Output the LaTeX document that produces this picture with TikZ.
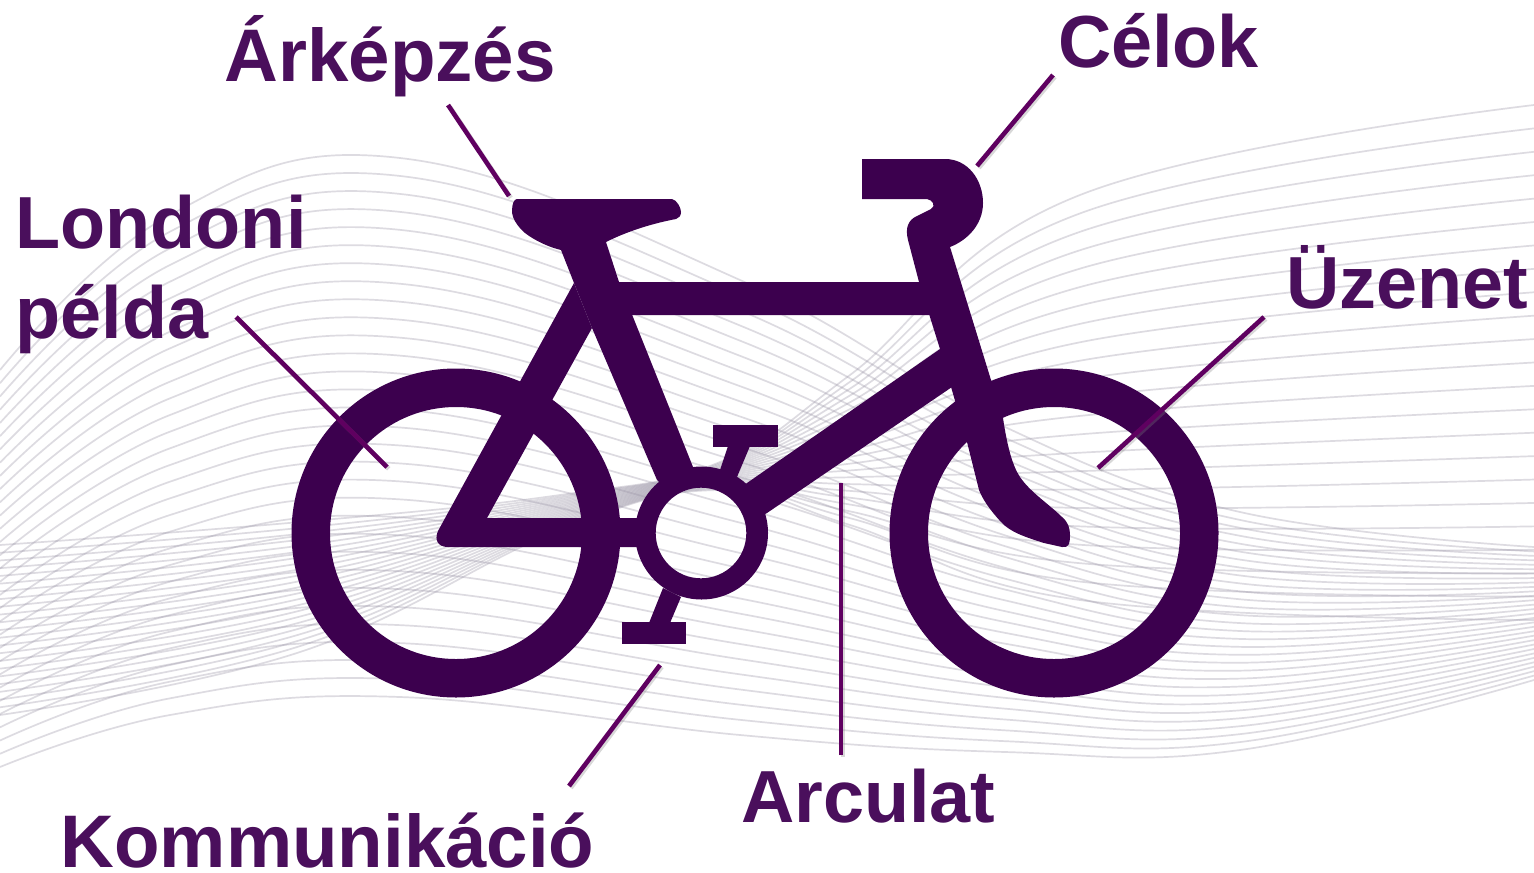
\documentclass[tikz,border=0pt]{standalone}
\usepackage{fontspec}
\setmainfont{Liberation Sans}
\definecolor{bikecol}{HTML}{3C004E}
\definecolor{textcol}{HTML}{4A0F5C}
\definecolor{linecol}{HTML}{5F0060}
\definecolor{wavecol}{HTML}{9A94A6}
\tikzset{
  bikepart/.style={fill=bikecol,draw=none},
  ringpart/.style={fill=bikecol,draw=none,even odd rule},
  wave/.style={draw=wavecol,line width=.85pt,opacity=.33},
  lab/.style={text=textcol,anchor=base west,inner sep=0pt,outer sep=0pt,font=\fontsize{36.9}{44}\selectfont\bfseries},
  labwide/.style={lab,font=\fontsize{37.25}{44}\selectfont\bfseries},
  leader/.style={draw=linecol,line width=2.3pt,
    preaction={draw=gray,opacity=.3,line width=2.3pt,transform canvas={xshift=.9pt,yshift=-.9pt}}}
}
\begin{document}
\begin{tikzpicture}[x=.5pt,y=-.5pt]
\useasboundingbox (0,0) rectangle (1534,872);
\fill[white] (0,0) rectangle (1534,872);
% background waves
\begin{scope}
\clip (0,0) rectangle (1534,872);
\foreach \t in {0,...,30}{
  \pgfmathsetmacro{\k}{\t/30}
  \draw[wave] plot[smooth,tension=.7] coordinates {
    (0,{370+397*\k}) (170,{215+500*\k}) (400,{158+539*\k})
    (740,{280+455*\k}) (1005,{427+325*\k}) (1240,{512+238*\k}) (1534,{547+133*\k})};
}
\foreach \t in {0,...,22}{
  \pgfmathsetmacro{\k}{\t/22}
  \draw[wave] plot[smooth,tension=.7] coordinates {
    (0,{545+170*\k}) (300,{522+130*\k}) (560,{495+35*\k}) (720,{462+28*\k})
    (850,{375+150*\k}) (1080,{195+405*\k}) (1534,{105+515*\k})};
}
\end{scope}
% wheels
\path[ringpart] (456,533) circle[radius=164.5] (456,533) circle[radius=126];
\path[ringpart] (1054,533) circle[radius=164.5] (1054,533) circle[radius=126];
% stay and chain bar
\path[bikepart] (574,283) -- (592,328) -- (487,518) -- (640,518) -- (640,547) -- (448,547)
  .. controls (438,547) and (434,540) .. (438,531) -- cycle;
% saddle and seat tube
\path[bikepart] (517,199) -- (672,199) .. controls (677,200) and (681,208) .. (681,212)
  .. controls (681,216) and (679,218) .. (676,219) .. controls (655,223) and (630,230) .. (606,242)
  -- (619,282) -- (693,467) -- (700,482) -- (668,490) -- (657,480) -- (592,328) -- (574,283) -- (561,250)
  .. controls (548,247) and (534,240) .. (525,233) .. controls (517,226) and (512,218) .. (512,211)
  .. controls (512,204) and (514,199) .. (517,199) -- cycle;
% top tube
\path[bikepart] (600,282) -- (925,282) -- (935,315) -- (625,315) -- cycle;
% handlebar, head tube, fork
\path[bikepart] (862,159) -- (945,159) .. controls (968,159) and (983,180) .. (983,203)
  .. controls (983,224) and (968,240) .. (950,247) -- (991,380) -- (1003,418)
  .. controls (1007,445) and (1012,465) .. (1020,477) .. controls (1030,492) and (1050,505) .. (1062,517)
  .. controls (1068,522) and (1070,528) .. (1070,535) .. controls (1070,545) and (1068,548) .. (1062,547)
  -- (1044,543) .. controls (1025,537) and (1010,532) .. (1001,522) .. controls (990,510) and (983,500) .. (979,490)
  -- (967,442) -- (940,349) -- (919,282) -- (908,240) .. controls (905,228) and (908,220) .. (917,216)
  -- (931,209) .. controls (936,206) and (933,200) .. (927,199) -- (862,199) -- cycle;
% down tube
\path[bikepart] (940,349) -- (747,483) -- (730,495) -- (755,520) -- (767,513) -- (952,387) -- (965,380) -- cycle;
% bottom bracket
\path[ringpart] (701.5,533) circle[radius=66.5] (701,533) circle[radius=45.3];
% pedals and cranks
\path[bikepart] (713,425) rectangle (778,447);
\path[bikepart] (728,446) -- (750,446) -- (737,477) -- (720,470) -- cycle;
\path[bikepart] (622,622) rectangle (686,644);
\path[bikepart] (663,588) -- (681,597) -- (670,623) -- (649,623) -- cycle;
% labels
\node[labwide] (arkepzes) at (224.5,82) {Árképzés};
\node[lab] (celok) at (1058,68) {Célok};
\node[lab] (londoni) at (15.5,248) {Londoni};
\node[lab] (pelda) at (15.5,338) {példa};
\node[lab] (uzenet) at (1286,308) {Üzenet};
\node[lab] (arculat) at (741,822) {Arculat};
\node[labwide] (komm) at (60.5,867) {Kommunikáció};
% leaders
\coordinate (a1) at (448,105); \coordinate (a2) at (509,196);
\coordinate (c1) at (1053,75); \coordinate (c2) at (977,166);
\coordinate (l1) at (236,317); \coordinate (l2) at (387,467);
\coordinate (u1) at (1264,317); \coordinate (u2) at (1098,468);
\coordinate (r1) at (841,755); \coordinate (r2) at (841,483);
\coordinate (k1) at (569,786); \coordinate (k2) at (660,665);
\draw[leader] (a1) -- (a2);
\draw[leader] (c1) -- (c2);
\draw[leader] (l1) -- (l2);
\draw[leader] (u1) -- (u2);
\draw[leader] (r1) -- (r2);
\draw[leader] (k1) -- (k2);
\end{tikzpicture}
\end{document}
